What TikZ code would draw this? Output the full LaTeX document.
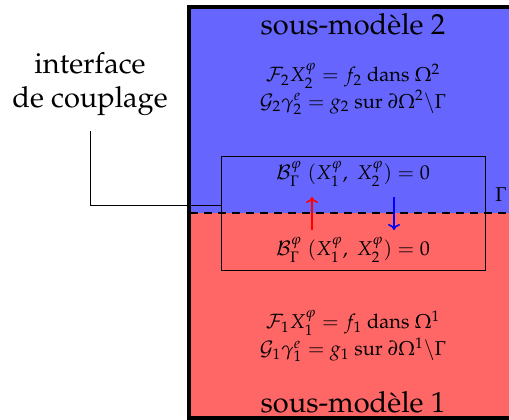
\documentclass[tikz,border=0pt]{standalone}
\usepackage[T1]{fontenc}
\usepackage{mathpazo}
\usepackage{amssymb}
\usetikzlibrary{arrows.meta}
\definecolor{sblue}{RGB}{102,102,255}
\definecolor{sred}{RGB}{255,102,102}
\tikzset{
  title/.style={font=\fontsize{14.5}{17}\selectfont, inner sep=0pt},
  eqs/.style={font=\fontsize{10}{11.5}\selectfont, align=center, inner sep=0pt},
  lbl/.style={font=\fontsize{14.5}{17}\selectfont, align=center, inner sep=0pt},
  linkarrow/.style={line width=0.8pt, -{To[length=3pt,width=6pt]}}
}
\begin{document}
\begin{tikzpicture}[x=0.5pt,y=-0.5pt]
\clip (0,0) rectangle (509,419);
% regions
\fill[sblue] (189,7) rectangle (520,213);
\fill[sred] (189,213) rectangle (520,418);
\draw[line width=2pt] (189,7) rectangle (520,418);
% interface dashed line
\draw[line width=1.2pt, dash pattern=on 4pt off 3pt] (190,213) -- (509,213);
% interface box
\node[draw, line width=0.5pt, minimum width=132pt, minimum height=57pt, inner sep=0pt] (box) at (353.5,213) {};
% titles
\node[title] (t2) at (353,24) {sous-modèle 2};
\node[title] (t1) at (353,402) {sous-modèle 1};
% equations
\node[eqs] (e2) at (353,89) {$\mathcal{F}_2 X_2^{\varphi} = f_2$ dans $\Omega^2$\\ $\mathcal{G}_2 \gamma_2^{e} = g_2$ sur $\partial\Omega^2\backslash\Gamma$};
\node[eqs] (e1) at (353,336) {$\mathcal{F}_1 X_1^{\varphi} = f_1$ dans $\Omega^1$\\ $\mathcal{G}_1 \gamma_1^{e} = g_1$ sur $\partial\Omega^1\backslash\Gamma$};
\node[eqs] (b2) at (353,174) {$\mathcal{B}_{\Gamma}^{\varphi}\;(X_1^{\varphi},\; X_2^{\varphi}) = 0$};
\node[eqs] (b1) at (353,250) {$\mathcal{B}_{\Gamma}^{\varphi}\;(X_1^{\varphi},\; X_2^{\varphi}) = 0$};
\node[eqs] (gam) at (501,195) {$\Gamma$};
% arrows
\coordinate (ra) at (312,230);
\coordinate (rb) at (312,197);
\coordinate (ba) at (394,197);
\coordinate (bb) at (394,230);
\draw[linkarrow, red] (ra) -- (rb);
\draw[linkarrow, blue] (ba) -- (bb);
% label
\node[lbl] (lab) at (90,84) {interface\\de couplage};
\coordinate (c1) at (90,131);
\coordinate (c2) at (90,205);
\draw[line width=0.5pt] (c1) -- (c2) -- (box.west |- c2);
\end{tikzpicture}
\end{document}
